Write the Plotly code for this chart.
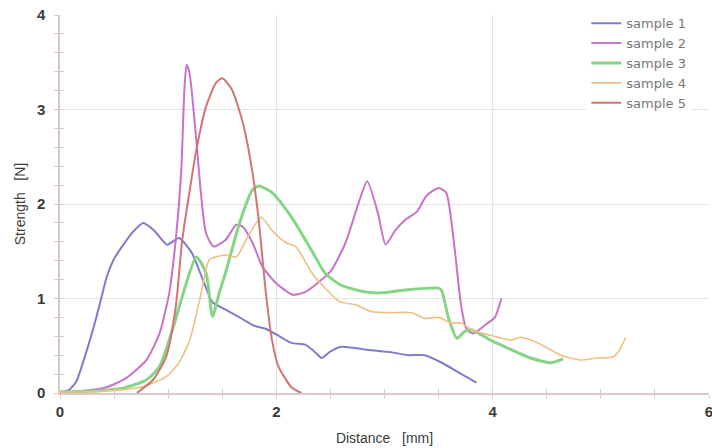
import plotly.graph_objects as go

# ---- data ----
s1_x = [0, 0.08, 0.15, 0.22, 0.3, 0.37, 0.43, 0.5, 0.58, 0.67, 0.77, 0.87, 0.99, 1.1, 1.22, 1.32, 1.41, 1.5, 1.66, 1.8, 1.9, 2.0, 2.14, 2.27, 2.35, 2.42, 2.5, 2.6, 2.82, 3.07, 3.22, 3.37, 3.53, 3.68, 3.85]
s1_y = [0.01, 0.03, 0.12, 0.35, 0.65, 0.95, 1.22, 1.42, 1.56, 1.7, 1.80, 1.72, 1.57, 1.64, 1.48, 1.2, 0.96, 0.9, 0.8, 0.71, 0.68, 0.62, 0.53, 0.51, 0.44, 0.37, 0.44, 0.49, 0.46, 0.43, 0.40, 0.40, 0.32, 0.22, 0.11]

s2_x = [0, 0.2, 0.43, 0.6, 0.67, 0.8, 0.92, 1.01, 1.07, 1.12, 1.15, 1.17, 1.19, 1.21, 1.26, 1.30, 1.35, 1.42, 1.53, 1.63, 1.69, 1.78, 1.87, 1.99, 2.15, 2.27, 2.42, 2.51, 2.64, 2.76, 2.84, 2.94, 3.01, 3.1, 3.19, 3.3, 3.39, 3.5, 3.57, 3.65, 3.71, 3.76, 3.82, 3.93, 4.02, 4.08]
s2_y = [0.01, 0.02, 0.06, 0.15, 0.21, 0.35, 0.63, 1.06, 1.62, 2.33, 3.21, 3.47, 3.42, 3.28, 2.68, 2.15, 1.69, 1.55, 1.62, 1.78, 1.76, 1.59, 1.34, 1.17, 1.04, 1.07, 1.20, 1.30, 1.59, 2.01, 2.24, 1.90, 1.57, 1.72, 1.83, 1.92, 2.09, 2.17, 2.12, 1.51, 0.91, 0.67, 0.63, 0.72, 0.80, 1.00]

s3_x = [0, 0.3, 0.58, 0.8, 0.92, 1.04, 1.13, 1.26, 1.35, 1.41, 1.47, 1.53, 1.66, 1.78, 1.84, 1.96, 2.14, 2.33, 2.45, 2.60, 2.82, 2.97, 3.19, 3.50, 3.53, 3.59, 3.67, 3.74, 3.80, 3.98, 4.17, 4.35, 4.54, 4.65]
s3_y = [0.01, 0.02, 0.05, 0.14, 0.28, 0.67, 1.02, 1.44, 1.27, 0.81, 1.05, 1.27, 1.80, 2.15, 2.19, 2.12, 1.86, 1.50, 1.27, 1.14, 1.07, 1.06, 1.09, 1.11, 1.08, 0.80, 0.58, 0.65, 0.67, 0.56, 0.46, 0.37, 0.32, 0.36]

s4_x = [0, 0.4, 0.74, 0.98, 1.1, 1.2, 1.29, 1.38, 1.44, 1.53, 1.63, 1.72, 1.86, 1.96, 2.09, 2.18, 2.33, 2.45, 2.58, 2.74, 2.88, 3.07, 3.25, 3.37, 3.5, 3.62, 3.71, 3.80, 3.98, 4.17, 4.26, 4.42, 4.63, 4.81, 4.97, 5.11, 5.17, 5.23]
s4_y = [0.01, 0.02, 0.06, 0.17, 0.32, 0.56, 0.98, 1.41, 1.44, 1.46, 1.44, 1.62, 1.86, 1.72, 1.59, 1.55, 1.27, 1.11, 0.97, 0.93, 0.86, 0.85, 0.85, 0.79, 0.80, 0.74, 0.74, 0.67, 0.61, 0.56, 0.59, 0.53, 0.40, 0.35, 0.37, 0.38, 0.45, 0.59]

s5_x = [0.71, 0.86, 0.98, 1.07, 1.13, 1.20, 1.26, 1.35, 1.44, 1.50, 1.59, 1.69, 1.78, 1.84, 1.90, 1.96, 2.02, 2.14, 2.23]
s5_y = [0.0, 0.14, 0.38, 0.91, 1.62, 2.15, 2.57, 3.03, 3.28, 3.33, 3.21, 2.86, 2.33, 1.80, 1.09, 0.56, 0.28, 0.06, 0.0]

names = ["sample 1", "sample 2", "sample 3", "sample 4", "sample 5"]
colors = ["#7e7ccc", "#c873c8", "#86d486", "#efbf82", "#d27474"]
widths = [2, 2, 3, 1.6, 2]

x_ticks = [0, 2, 4, 6]
y_ticks = [0, 1, 2, 3, 4]

series = [(s1_x, s1_y), (s2_x, s2_y), (s3_x, s3_y), (s4_x, s4_y), (s5_x, s5_y)]

fig = go.Figure()
for (xs, ys), n, c, w in zip(series, names, colors, widths):
    fig.add_trace(go.Scatter(x=xs, y=ys, mode="lines", name=n,
                             line=dict(color=c, width=w, shape="spline", smoothing=0.6)))

# dummy trace for overlay axes (inside half of crossing ticks)
fig.add_trace(go.Scatter(x=[None], y=[None], xaxis="x2", yaxis="y2", showlegend=False, hoverinfo="skip"))

axis_col = "#d9c9c9"
tick_font = dict(family="Liberation Sans, Arial, sans-serif", size=15, color="#3a3a3a", weight="bold")
title_font = dict(family="Liberation Sans, Arial, sans-serif", size=14, color="#3c3c3c")

fig.update_layout(
    width=712, height=448,
    margin=dict(l=60, r=3, t=15, b=55),
    paper_bgcolor="white", plot_bgcolor="white",
    showlegend=True,
    legend=dict(x=0.811, xanchor="left", y=1.018, yanchor="top",
                font=dict(family="DejaVu Sans, Verdana, sans-serif", size=13, color="#777777"),
                bgcolor="rgba(255,255,255,1)", borderwidth=0,
                tracegroupgap=0, itemwidth=30),
    xaxis=dict(range=[0, 6], tickvals=x_ticks, ticktext=[str(v) for v in x_ticks],
               automargin=False, ticklabeloverflow="allow",
               showgrid=True, gridcolor="#e3e3e3", gridwidth=1,
               showline=True, linecolor=axis_col, linewidth=1.5,
               ticks="outside", ticklen=4, tickcolor=axis_col,
               minor=dict(dtick=0.5, ticks="outside", ticklen=4, tickcolor=axis_col, showgrid=False),
               tickfont=tick_font, zeroline=False,
               title=dict(text="Distance   [mm]", font=title_font, standoff=14)),
    yaxis=dict(range=[0, 4], tickvals=y_ticks, ticktext=[str(v) for v in y_ticks],
               automargin=False, ticklabelstandoff=6, ticklabeloverflow="allow",
               showgrid=True, gridcolor="#e3e3e3", gridwidth=1,
               showline=True, linecolor=axis_col, linewidth=1.5,
               ticks="outside", ticklen=4, tickcolor=axis_col,
               minor=dict(dtick=0.2, ticks="outside", ticklen=4, tickcolor=axis_col, showgrid=False),
               tickfont=tick_font, zeroline=False,
               title=dict(text="Strength   [N]", font=title_font, standoff=8)),
    xaxis2=dict(range=[0, 6], overlaying="x", anchor="y2", showgrid=False, zeroline=False,
                automargin=False,
                showticklabels=False, ticks="inside", ticklen=4, tickcolor=axis_col,
                tickvals=x_ticks,
                minor=dict(dtick=0.5, ticks="inside", ticklen=4, tickcolor=axis_col, showgrid=False)),
    yaxis2=dict(range=[0, 4], overlaying="y", anchor="x2", showgrid=False, zeroline=False,
                automargin=False,
                showticklabels=False, ticks="inside", ticklen=4, tickcolor=axis_col,
                tickvals=y_ticks,
                minor=dict(dtick=0.2, ticks="inside", ticklen=4, tickcolor=axis_col, showgrid=False)),
)

fig.write_html("out.html", config={"displayModeBar": False},
               post_script="document.body.style.margin='0';document.body.style.overflow='hidden';")
